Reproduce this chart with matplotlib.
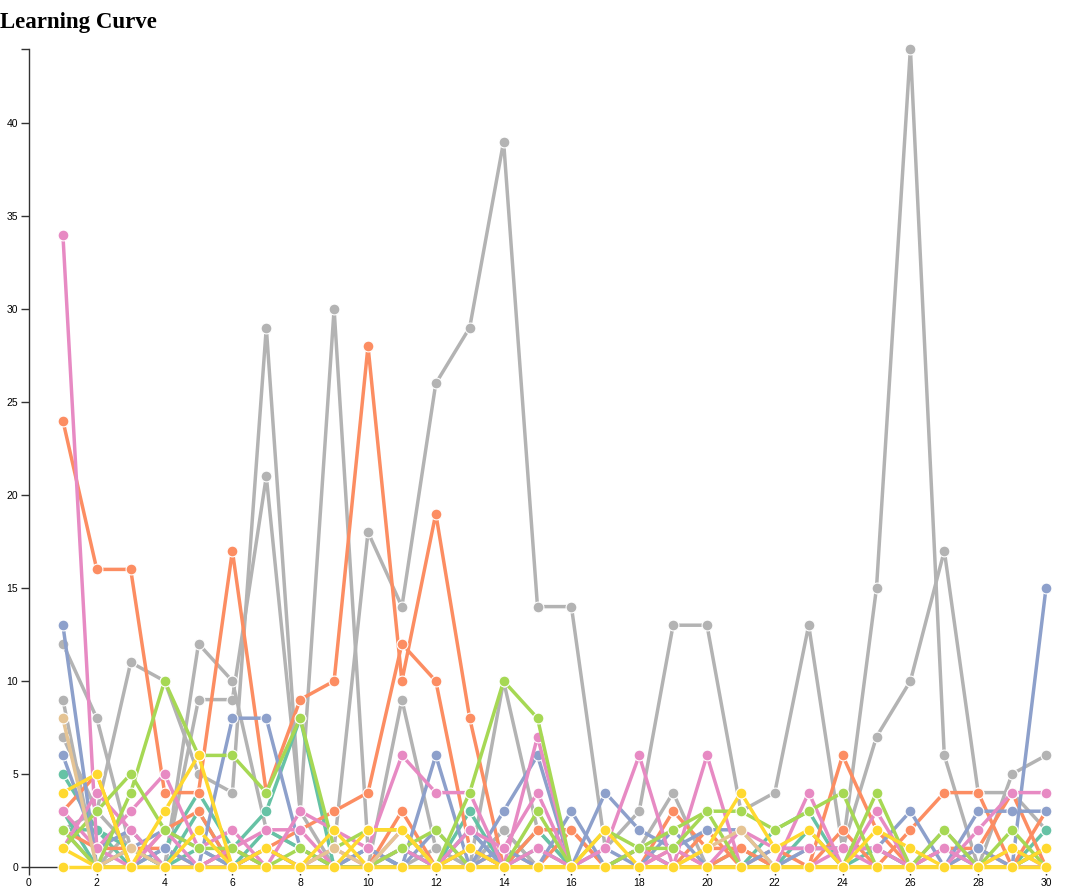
import matplotlib
matplotlib.use("Agg")
import matplotlib.pyplot as plt

# Data: one list per learner, value per trial 1..30
trials = list(range(1, 31))

gray_a = [2, 3, 1, 0, 0, 1, 0, 0, 1, 18, 14, 26, 29, 39, 14, 14, 1, 3, 13, 13, 3, 4, 13, 1, 15, 44, 6, 0, 5, 6]
gray_b = [9, 0, 2, 0, 9, 9, 21, 3, 0, 0, 1, 0, 0, 2, 0, 0, 0, 1, 4, 0, 0, 0, 1, 1, 7, 10, 17, 4, 4, 2]
gray_c = [12, 8, 1, 0, 12, 10, 2, 1, 0, 0, 9, 1, 0, 10, 2, 0, 0, 0, 0, 0, 0, 0, 0, 0, 0, 0, 2, 0, 0, 1]
gray_d = [7, 3, 11, 10, 5, 4, 29, 3, 30, 1, 0, 1, 0, 2, 0, 0, 0, 1, 0, 0, 0, 0, 0, 0, 0, 0, 0, 0, 0, 0]
teal_a = [5, 2, 0, 1, 4, 1, 3, 8, 0, 0, 0, 0, 3, 0, 2, 0, 0, 0, 0, 0, 0, 2, 3, 0, 0, 0, 0, 0, 0, 2]
teal_b = [3, 0, 1, 0, 3, 0, 1, 0, 0, 0, 1, 0, 2, 0, 0, 0, 0, 0, 0, 0, 0, 0, 0, 0, 1, 0, 0, 0, 0, 0]
teal_c = [2, 2, 1, 0, 1, 0, 2, 1, 0, 1, 0, 0, 1, 0, 1, 0, 0, 1, 0, 0, 1, 0, 2, 0, 0, 0, 1, 0, 0, 1]
orange_a = [24, 16, 16, 4, 4, 17, 4, 9, 10, 28, 10, 19, 8, 0, 0, 2, 0, 0, 1, 0, 1, 0, 0, 6, 2, 0, 1, 1, 0, 0]
orange_b = [3, 5, 0, 2, 3, 0, 1, 2, 3, 4, 12, 10, 1, 0, 2, 2, 0, 0, 3, 1, 1, 0, 0, 2, 0, 2, 4, 4, 0, 3]
orange_c = [2, 1, 1, 1, 0, 1, 0, 0, 0, 0, 3, 0, 0, 1, 0, 0, 0, 0, 0, 2, 0, 1, 0, 0, 0, 0, 0, 1, 4, 0]
blue_a = [13, 0, 1, 2, 1, 0, 0, 0, 0, 0, 0, 6, 0, 3, 6, 0, 4, 2, 1, 2, 2, 0, 1, 1, 1, 3, 0, 3, 3, 3]
blue_b = [6, 1, 2, 0, 0, 8, 8, 1, 0, 1, 0, 0, 2, 0, 0, 3, 0, 0, 0, 0, 0, 0, 0, 0, 0, 0, 0, 0, 0, 15]
blue_c = [2, 0, 0, 1, 0, 0, 1, 0, 0, 1, 0, 2, 0, 1, 0, 0, 1, 0, 2, 0, 0, 1, 1, 1, 1, 0, 0, 1, 0, 0]
pink_a = [34, 1, 3, 5, 1, 2, 0, 3, 2, 1, 6, 4, 4, 0, 7, 0, 1, 6, 0, 6, 0, 0, 4, 0, 3, 0, 0, 2, 4, 4]
pink_b = [1, 4, 2, 0, 0, 1, 2, 2, 0, 0, 2, 0, 2, 1, 4, 0, 0, 1, 0, 0, 2, 1, 1, 1, 0, 0, 1, 0, 0, 0]
pink_c = [3, 1, 0, 2, 0, 0, 1, 0, 1, 0, 1, 0, 1, 0, 1, 0, 0, 0, 1, 0, 0, 0, 0, 1, 1, 0, 0, 0, 1, 0]
green_a = [2, 0, 4, 10, 6, 6, 4, 8, 1, 2, 2, 0, 4, 10, 8, 0, 0, 1, 2, 3, 3, 2, 3, 4, 0, 0, 2, 0, 2, 0]
green_b = [1, 3, 5, 2, 1, 1, 0, 1, 0, 0, 1, 2, 0, 0, 3, 0, 2, 1, 1, 3, 0, 0, 0, 0, 4, 0, 0, 0, 0, 1]
tan_a = [8, 0, 1, 0, 0, 0, 0, 0, 1, 0, 2, 0, 0, 0, 0, 0, 0, 0, 0, 1, 2, 0, 0, 0, 0, 0, 0, 0, 0, 0]
yellow_a = [4, 5, 0, 3, 6, 0, 1, 0, 0, 2, 2, 0, 1, 0, 0, 0, 2, 0, 0, 1, 4, 1, 2, 0, 2, 1, 0, 0, 1, 0]
yellow_b = [1, 0, 0, 0, 2, 0, 0, 0, 2, 0, 0, 0, 0, 0, 0, 0, 0, 0, 0, 0, 0, 0, 0, 0, 0, 0, 0, 0, 0, 1]
yellow_c = [0, 0, 0, 0, 0, 0, 0, 0, 0, 0, 0, 0, 0, 0, 0, 0, 0, 0, 0, 0, 0, 0, 0, 0, 0, 0, 0, 0, 0, 0]

# Set2 colours, drawn back to front
series = [
    (gray_a, "#b3b3b3"), (gray_b, "#b3b3b3"), (gray_c, "#b3b3b3"), (gray_d, "#b3b3b3"),
    (teal_a, "#66c2a5"), (teal_b, "#66c2a5"), (teal_c, "#66c2a5"),
    (orange_a, "#fc8d62"), (orange_b, "#fc8d62"), (orange_c, "#fc8d62"),
    (blue_a, "#8da0cb"), (blue_b, "#8da0cb"), (blue_c, "#8da0cb"),
    (pink_a, "#e78ac3"), (pink_b, "#e78ac3"), (pink_c, "#e78ac3"),
    (green_a, "#a6d854"), (green_b, "#a6d854"),
    (tan_a, "#e5c494"),
    (yellow_a, "#ffd92f"), (yellow_b, "#ffd92f"), (yellow_c, "#ffd92f"),
]

fig = plt.figure(figsize=(10.8, 8.9), dpi=100)
ax = fig.add_axes([29 / 1080, 23 / 890, 1017 / 1080, 818.4 / 890])

for values, color in series:
    ax.plot(trials, values, color=color, lw=2.5, marker="o", markersize=7.8,
            markerfacecolor=color, markeredgecolor="white", markeredgewidth=0.8,
            clip_on=False, solid_joinstyle="round")

ax.set_xlim(0, 30)
ax.set_ylim(0, 44)
ax.set_xticks(range(0, 31, 2))
ax.set_yticks(range(0, 41, 5))
ax.set_yticks([44], minor=True)
ax.tick_params(axis="both", which="both", length=6, width=1, color="#333",
               labelsize=7.5, pad=2)
for lab in ax.get_xticklabels() + ax.get_yticklabels():
    lab.set_family("Liberation Sans")

for side in ["top", "right"]:
    ax.spines[side].set_visible(False)
for side in ["left", "bottom"]:
    ax.spines[side].set_color("#333")
    ax.spines[side].set_linewidth(1)
    ax.spines[side].set_zorder(0)

fig.text(0.0, 1 - 28 / 890, "Learning Curve", family="Liberation Serif",
         weight="bold", fontsize=16.5, va="baseline", ha="left")

plt.savefig("out.png", dpi=100)
